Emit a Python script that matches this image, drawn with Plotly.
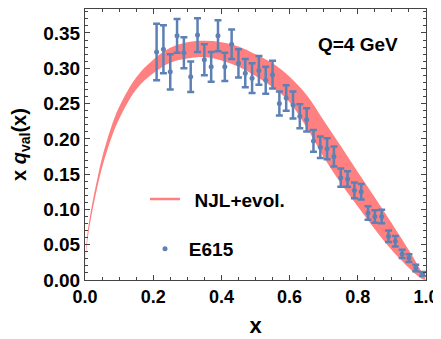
import plotly.graph_objects as go

# E615 data (Q = 4 GeV)
e615_x = [0.21, 0.23, 0.25, 0.27, 0.29, 0.31, 0.33, 0.35, 0.37, 0.39,
          0.41, 0.43, 0.45, 0.47, 0.49, 0.51, 0.53, 0.55, 0.57, 0.59,
          0.61, 0.63, 0.65, 0.67, 0.69, 0.71, 0.73, 0.75, 0.77, 0.79,
          0.81, 0.83, 0.85, 0.87, 0.89, 0.91, 0.93, 0.95, 0.97, 0.99]
e615_y = [0.323, 0.327, 0.295, 0.346, 0.322, 0.288, 0.347, 0.312, 0.302, 0.346,
          0.302, 0.334, 0.307, 0.293, 0.286, 0.297, 0.283, 0.291, 0.250, 0.258,
          0.248, 0.232, 0.227, 0.197, 0.188, 0.186, 0.175, 0.145, 0.143, 0.127,
          0.125, 0.095, 0.090, 0.090, 0.062, 0.055, 0.037, 0.031, 0.017, 0.0085]
e615_err = [0.040, 0.034, 0.025, 0.024, 0.022, 0.0215, 0.024, 0.022, 0.021, 0.022,
            0.020, 0.021, 0.020, 0.020, 0.021, 0.0205, 0.019, 0.0196, 0.017, 0.018,
            0.019, 0.017, 0.0165, 0.0154, 0.0153, 0.015, 0.014, 0.013, 0.011, 0.011,
            0.011, 0.0095, 0.009, 0.0095, 0.008, 0.0075, 0.006, 0.0055, 0.0047, 0.003]

# NJL+evol. band (upper / lower edges)
band_x = [0.0, 0.002, 0.005, 0.01, 0.02, 0.035, 0.05, 0.075, 0.1, 0.15,
          0.2, 0.25, 0.3, 0.35, 0.4, 0.45, 0.5, 0.55, 0.6, 0.65,
          0.7, 0.75, 0.8, 0.85, 0.9, 0.95, 0.97, 0.99, 1.0]
band_upper = [0.0, 0.036, 0.055, 0.076, 0.105, 0.141, 0.173, 0.214, 0.245, 0.287,
              0.312, 0.329, 0.337, 0.339, 0.337, 0.331, 0.320, 0.307, 0.288, 0.262,
              0.226, 0.190, 0.153, 0.117, 0.080, 0.042, 0.026, 0.009, 0.0]
band_lower = [0.0, 0.030, 0.047, 0.066, 0.094, 0.129, 0.159, 0.198, 0.228, 0.270,
              0.293, 0.308, 0.314, 0.316, 0.311, 0.302, 0.289, 0.273, 0.252, 0.216,
              0.174, 0.137, 0.104, 0.072, 0.042, 0.017, 0.008, 0.001, 0.0]

RED = "rgb(255,128,128)"
BLUE = "rgb(94,129,181)"
FONT = "Liberation Sans, Arial, sans-serif"

fig = go.Figure()
fig.add_trace(go.Scatter(x=band_x, y=band_lower, mode="lines",
                         line=dict(width=0, color=RED, shape="spline"),
                         showlegend=False, hoverinfo="skip"))
fig.add_trace(go.Scatter(x=band_x, y=band_upper, mode="lines", fill="tonexty",
                         fillcolor=RED, line=dict(width=0, color=RED, shape="spline"),
                         showlegend=False, hoverinfo="skip"))
# legend entries
fig.add_trace(go.Scatter(x=[None], y=[None], mode="lines", name="\u2002<b>NJL+evol.</b>",
                         line=dict(color=RED, width=2.5), legendgroup="a"))
fig.add_trace(go.Scatter(x=e615_x, y=e615_y, mode="markers", name="\u2009<b>E615</b>",
                         marker=dict(color=BLUE, size=5),
                         error_y=dict(type="data", array=e615_err, color=BLUE,
                                      thickness=2.5, width=3.5),
                         legendgroup="b"))

fig.add_annotation(x=0.80, y=0.333, xref="x", yref="y", text="<b>Q=4 GeV</b>",
                   showarrow=False, font=dict(size=19, color="black", family=FONT))

axis_common = dict(showline=True, linecolor="#444", linewidth=1, mirror="allticks",
                   ticks="inside", tickcolor="#444", ticklen=5, showgrid=False,
                   zeroline=False, automargin=False)

fig.update_xaxes(range=[0, 1], dtick=0.2, tick0=0, tickformat=".1f",
                 minor=dict(dtick=0.05, ticks="inside", ticklen=3, tickcolor="#444"),
                 title=dict(text="<b>x</b>", font=dict(size=22, color="black", family=FONT),
                            standoff=12),
                 tickprefix="<b>", ticksuffix="</b>",
                 tickfont=dict(size=18, color="black", family=FONT),
                 **axis_common)
fig.update_yaxes(range=[0, 0.384], dtick=0.05, tick0=0, tickformat=".2f",
                 minor=dict(dtick=0.01, ticks="inside", ticklen=3, tickcolor="#444"),
                 title=dict(text="<b>x <i>q</i><sub>val</sub>(x)</b>",
                            font=dict(size=20, color="black", family=FONT), standoff=14),
                 tickprefix="<b>", ticksuffix="</b>",
                 tickfont=dict(size=19, color="black", family=FONT),
                 **axis_common)

fig.update_layout(
    width=433, height=331,
    margin=dict(l=77, r=15, t=1, b=59),
    plot_bgcolor="white", paper_bgcolor="white",
    legend=dict(x=0.176, y=0.368, xanchor="left", yanchor="top",
                font=dict(size=19, color="black", family=FONT),
                bgcolor="rgba(0,0,0,0)", tracegroupgap=22, traceorder="grouped",
                itemwidth=30),
)
fig.write_html("out.html")
